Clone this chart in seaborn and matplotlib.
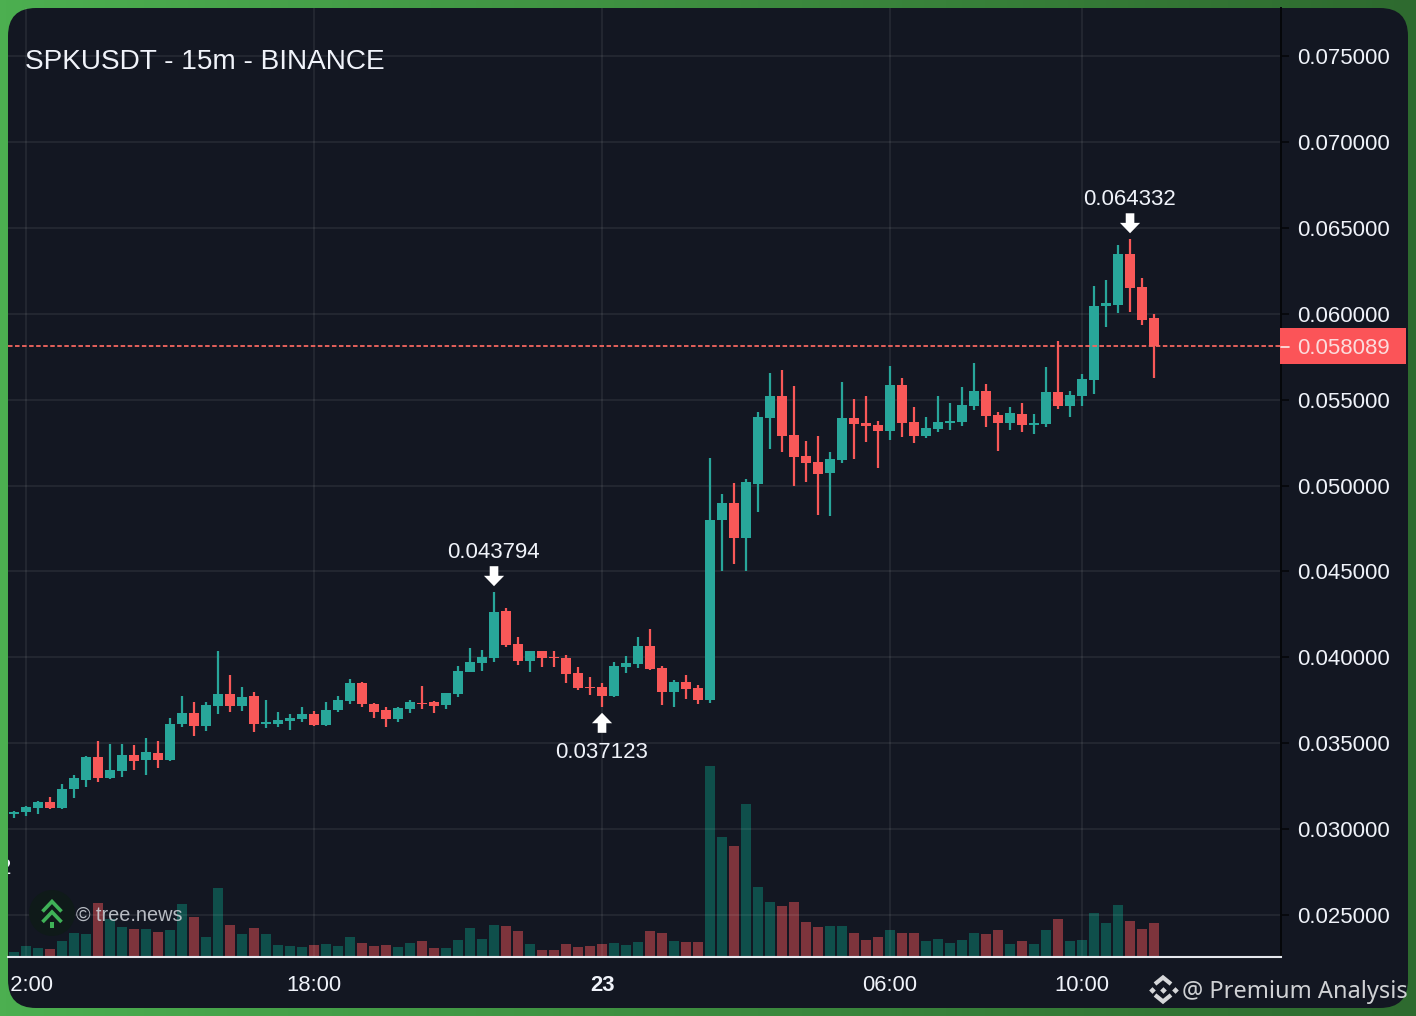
import numpy as np
import matplotlib
matplotlib.use("Agg")
import matplotlib.pyplot as plt
from matplotlib.patches import FancyBboxPatch, Circle, Rectangle
from matplotlib.transforms import offset_copy, Bbox
from matplotlib.colors import to_rgb
import seaborn as sns

TITLE = "SPKUSDT - 15m - BINANCE"
PRICE_UNIT = 1e-5  # values below are in 0.00001 USDT

highs = [3106, 3135, 3164, 3188, 3263, 3315, 3426, 3513, 3496, 3496, 3490, 3531, 3513, 3647, 3775, 3740,
         3740, 4037, 3897, 3828, 3799, 3752, 3682, 3671, 3711, 3688, 3740, 3775, 3874, 3857, 3734, 3711,
         3711, 3752, 3833, 3746, 3793, 3950, 4055, 4043, 4379, 4287, 4119, 4037, 4037, 4037, 4014, 3944,
         3886, 3851, 3973, 4008, 4119, 4165, 3950, 3868, 3897, 3839, 5160, 4951, 5015, 5038, 5428, 5655,
         5673, 5580, 5259, 5288, 5195, 5603, 5504, 5521, 5376, 5696, 5626, 5457, 5399, 5521, 5481, 5574,
         5713, 5591, 5428, 5457, 5481, 5417, 5690, 5841, 5550, 5649, 6162, 6196, 6400, 6433, 6208, 6000]
opens = [3088, 3100, 3123, 3158, 3123, 3234, 3286, 3420, 3298, 3339, 3432, 3403, 3444, 3403, 3612, 3676,
         3601, 3717, 3787, 3717, 3775, 3612, 3612, 3630, 3641, 3671, 3607, 3694, 3746, 3851, 3729, 3694,
         3641, 3700, 3736, 3740, 3723, 3787, 3915, 3967, 3996, 4270, 4078, 3979, 4035, 4002, 3996, 3909,
         3828, 3828, 3775, 3944, 3962, 4066, 3938, 3799, 3857, 3822, 3752, 4800, 4899, 4695, 5009, 5393,
         5521, 5294, 5172, 5137, 5073, 5149, 5393, 5364, 5352, 5318, 5585, 5370, 5288, 5329, 5364, 5370,
         5463, 5550, 5411, 5364, 5417, 5352, 5358, 5545, 5463, 5521, 5614, 6045, 6051, 6348, 6156, 5975]
closes = [3100, 3129, 3158, 3123, 3234, 3298, 3420, 3298, 3345, 3432, 3397, 3449, 3403, 3612, 3676, 3601,
          3723, 3787, 3717, 3770, 3612, 3624, 3636, 3647, 3671, 3607, 3694, 3752, 3851, 3729, 3682, 3641,
          3705, 3740, 3729, 3717, 3790, 3921, 3973, 4002, 4264, 4072, 3979, 4035, 3996, 3994, 3903, 3822,
          3822, 3775, 3950, 3967, 4066, 3932, 3799, 3857, 3816, 3752, 4800, 4899, 4695, 5021, 5399, 5521,
          5288, 5166, 5131, 5067, 5155, 5393, 5358, 5347, 5318, 5585, 5364, 5288, 5335, 5370, 5376, 5469,
          5550, 5405, 5364, 5422, 5352, 5364, 5545, 5463, 5527, 5620, 6045, 6063, 6348, 6150, 5964, 5809]
lows = [3065, 3077, 3088, 3120, 3117, 3182, 3246, 3275, 3292, 3304, 3345, 3315, 3356, 3397, 3595, 3542,
        3572, 3671, 3682, 3688, 3566, 3589, 3595, 3577, 3624, 3601, 3601, 3682, 3729, 3711, 3647, 3595,
        3624, 3676, 3700, 3676, 3700, 3770, 3912, 3921, 3973, 4060, 3956, 3915, 3944, 3944, 3851, 3810,
        3781, 3712, 3770, 3909, 3938, 3927, 3723, 3711, 3758, 3729, 3734, 4503, 4543, 4503, 4846, 5213,
        5195, 4997, 5021, 4829, 4823, 5131, 5155, 5254, 5102, 5265, 5283, 5248, 5277, 5312, 5323, 5347,
        5440, 5341, 5201, 5323, 5312, 5300, 5341, 5446, 5399, 5463, 5533, 5923, 6004, 6010, 5935, 5626]
volumes = [4, 10, 8, 7, 15, 23, 22, 53, 37, 29, 27, 27, 24, 26, 52, 39,
           19, 68, 31, 22, 28, 22, 11, 10, 9, 11, 12, 10, 19, 13, 10, 11,
           9, 13, 15, 8, 8, 16, 28, 17, 31, 30, 25, 12, 6, 6, 12, 9,
           10, 12, 13, 11, 14, 25, 23, 15, 14, 14, 190, 119, 110, 152, 69, 54,
           50, 54, 34, 29, 30, 30, 23, 16, 19, 26, 23, 23, 15, 17, 13, 16,
           23, 22, 26, 12, 15, 12, 26, 37, 15, 16, 43, 33, 51, 35, 27, 33]
price_ticks = [0.025, 0.030, 0.035, 0.040, 0.045, 0.050, 0.055, 0.060, 0.065, 0.070, 0.075]
time_tick_index = [1, 25, 49, 73, 89]
time_tick_labels = ["12:00", "18:00", "23", "06:00", "10:00"]
markers_high = [(40, "0.043794"), (93, "0.064332")]
marker_low = (49, "0.037123")
last_price_label = "0.058089"

BG = "#131722"
UP, DOWN = "#28a69a", "#f85858"
VOL_UP, VOL_DOWN = "#0f4f4b", "#7d343c"
FG = "#f0f3fa"

sns.set_theme(style="dark")
plt.rcParams["font.family"] = ["Liberation Sans", "DejaVu Sans"]

W, H = 1416, 1016
fig = plt.figure(figsize=(W / 100, H / 100), dpi=100)
panel_clip = Bbox([[8, 8], [1408, 1008]])  # display pixels; text clipping needs a rectangle
first_label_clip = Bbox([[10.8, 8], [1408, 1008]])

# frame with horizontal gradient and rounded panel, in pixel coordinates
ax_bg = fig.add_axes([0, 0, 1, 1], zorder=0)
c0, c1 = np.array(to_rgb("#4caf50")), np.array(to_rgb("#2e6a2f"))
t = np.linspace(0, 1, 256)[None, :, None]
ax_bg.imshow(c0 + (c1 - c0) * t, extent=(0, W, H, 0), aspect="auto")
panel = FancyBboxPatch((8, 8), 1400, 1000, boxstyle="round,pad=0,rounding_size=28",
                       fc=BG, ec="none")
ax_bg.add_patch(panel)
ax_bg.set_xlim(0, W)
ax_bg.set_ylim(H, 0)
ax_bg.axis("off")

# price axes
rect = [8 / W, (H - 957) / H, 1273 / W, 949 / H]
ax = fig.add_axes(rect, zorder=3)
ax.patch.set_visible(False)
ax_vol = ax.twinx()
ax_vol.set_zorder(2)
ax_vol.patch.set_visible(False)

idx = np.arange(len(opens))
o = np.array(opens) * PRICE_UNIT
c = np.array(closes) * PRICE_UNIT
h = np.array(highs) * PRICE_UNIT
l = np.array(lows) * PRICE_UNIT
v = np.array(volumes, dtype=float)
up = c >= o

for mask, col_body, col_vol in ((up, UP, VOL_UP), (~up, DOWN, VOL_DOWN)):
    sns.barplot(x=idx[mask], y=v[mask], native_scale=True, color=col_vol, saturation=1,
                width=0.83, errorbar=None, linewidth=0, ax=ax_vol)
    ax.vlines(idx[mask], l[mask], h[mask], colors=col_body, linewidth=1.6, zorder=2)
    sns.barplot(x=idx[mask], y=np.abs(c - o)[mask], bottom=np.minimum(o, c)[mask],
                native_scale=True, color=col_body, saturation=1, width=0.83,
                errorbar=None, linewidth=0, zorder=3, ax=ax)

ax.set_xlim(-0.5, 105.58)
ax.set_ylim(0.02256, 0.07779)
ax_vol.set_ylim(-1, 948)
ax_vol.set_axis_off()
ax.set_xlabel("")
ax.set_ylabel("")

ax.yaxis.tick_right()
ax.set_yticks(price_ticks)
ax.set_yticklabels([f"{p:.6f}" for p in price_ticks])
ax.set_xticks(time_tick_index)
ax.set_xticklabels(time_tick_labels)
ax.tick_params(axis="y", length=5.8, width=1.2, color="#05070a", pad=5.9,
               labelsize=16, labelcolor=FG)
ax.tick_params(axis="x", length=5, width=1.4, color=FG, pad=8,
               labelsize=15.85, labelcolor=FG)
ax.set_axisbelow(True)
ax.grid(True, color="white", alpha=0.075, linewidth=1.3)
for name, spine in ax.spines.items():
    spine.set_visible(False)
ax.spines["bottom"].set_visible(True)
ax.spines["bottom"].set_color("#e6e8ee")
ax.spines["bottom"].set_linewidth(1.5)
ax.spines["right"].set_visible(True)
ax.spines["right"].set_color("#05070a")
ax.spines["right"].set_linewidth(1.4)
first_label = ax.get_xticklabels()[0]
first_label.set_clip_box(first_label_clip)
first_label.set_clip_on(True)
ax.get_xticklabels()[2].set_fontweight("bold")

# last price line
ax.axhline(c[-1], color="#f4665f", linewidth=1.3, linestyle=(0, (2.5, 1.4)), zorder=4)

# high and low markers
def marker(i, price, label, direction):
    # direction=-1: arrow points down to a high; +1: arrow points up to a low
    tip = offset_copy(ax.transData, fig=fig, y=6 if direction < 0 else -6, units="dots")
    dy = 14.4 if direction < 0 else -14.4
    ax.annotate("", xy=(i, price), xycoords=tip, xytext=(0, dy), textcoords="offset points",
                arrowprops=dict(width=6.2, headwidth=14.5, headlength=7.5, fc="white", ec="none", shrink=0),
                annotation_clip=False, zorder=6)
    ty = 39.5 if direction < 0 else -45.5
    tx = -0.7 if direction < 0 else 0
    ax.annotate(label, xy=(i, price), xytext=(tx, ty * 0.72), textcoords="offset points",
                ha="center", va="center", fontsize=16, color=FG, zorder=6)

for i, lab in markers_high:
    marker(i, h[i], lab, -1)
marker(marker_low[0], l[marker_low[0]], marker_low[1], +1)

# foreground decorations in pixel coordinates
ax_fg = fig.add_axes([0, 0, 1, 1], zorder=5)
ax_fg.patch.set_visible(False)
ax_fg.set_xlim(0, W)
ax_fg.set_ylim(H, 0)
ax_fg.axis("off")
ax_fg.text(25, 62, TITLE, fontsize=20.2, color=FG, va="center", ha="left")

# last price box
ax_fg.add_patch(Rectangle((1280, 328), 126, 36, fc="#fb5458", ec="none"))
ax_fg.plot([1281, 1289], [346.5, 346.5], color="#fde8e8", lw=1.2)
ax_fg.text(1297.5, 346.5, last_price_label, fontsize=16, color="#fbdcdc", va="center_baseline", ha="left")

# stray clipped label at the left edge
t2 = ax_fg.text(11.5, 868, "2", fontsize=16, color=FG, va="center", ha="right")
t2.set_clip_box(panel_clip)
t2.set_clip_on(True)

# tree.news watermark
ax_fg.add_patch(Circle((52, 913), 23, fc="#0f1a19", ec="none"))
GREEN = "#3fb257"
ax_fg.plot([42.5, 52, 61.5], [911.5, 901.5, 911.5], color=GREEN, lw=2.6, solid_capstyle="butt", solid_joinstyle="miter")
ax_fg.plot([42.5, 52, 61.5], [922, 912, 922], color=GREEN, lw=2.6, solid_capstyle="butt", solid_joinstyle="miter")
ax_fg.add_patch(Rectangle((50, 922), 4, 6, fc=GREEN, ec="none"))
ax_fg.text(76, 915.5, "\u00a9 tree.news", fontsize=14.3, color="#c9cdd4", va="center", ha="left", alpha=0.9)

# Premium Analysis watermark
LOGO = "#d6d7d9"
cx, cy = 1163, 989.5
ax_fg.plot([cx - 8, cx, cx + 8], [cy - 5.5, cy - 12, cy - 5.5], color=LOGO, lw=3, solid_capstyle="butt", solid_joinstyle="miter")
ax_fg.plot([cx - 8, cx, cx + 8], [cy + 5.5, cy + 12, cy + 5.5], color=LOGO, lw=3, solid_capstyle="butt", solid_joinstyle="miter")
ax_fg.plot([cx - 11.5, cx, cx + 11.5], [cy, cy, cy], ls="none", marker="D", ms=3.4, color=LOGO, mew=0)
ax_fg.text(1182, 992, "@ Premium Analysis", family="Noto Sans", fontsize=17, color="#cfd1d4",
           va="center", ha="left")

fig.savefig("out.png", dpi=100, facecolor="#3d8c3f")
